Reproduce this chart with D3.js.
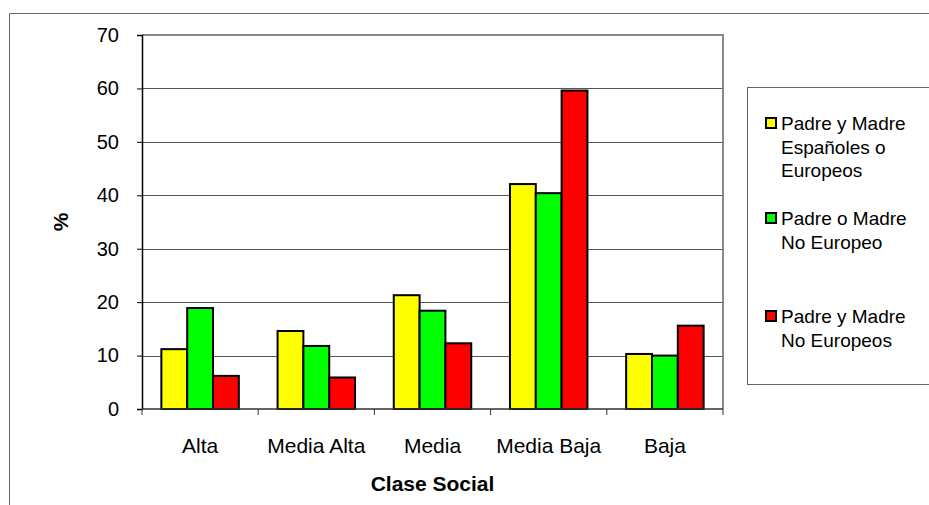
<!DOCTYPE html>
<html>
<head>
<meta charset="utf-8">
<script src="https://cdn.jsdelivr.net/npm/d3@7"></script>
<style>
  html, body { margin: 0; padding: 0; background: #fff; }
  svg { display: block; font-family: "Liberation Sans", Arial, sans-serif; }
</style>
</head>
<body>
<svg id="chart" width="929" height="505"></svg>
<script>
const categories = ["Alta", "Media Alta", "Media", "Media Baja", "Baja"];
const seriesNames = [
  ["Padre y Madre", "Españoles o", "Europeos"],
  ["Padre o Madre", "No Europeo"],
  ["Padre y Madre", "No Europeos"]
];
const seriesColors = ["#FFFF00", "#00FF00", "#FF0000"];
const serie1 = [11.2, 14.6, 21.3, 42.1, 10.3];
const serie2 = [18.9, 11.8, 18.4, 40.4, 10.0];
const serie3 = [6.2, 5.9, 12.3, 59.6, 15.6];
const yTicks = [0, 10, 20, 30, 40, 50, 60, 70];
const xTitle = "Clase Social";
const yTitle = "%";

const series = [serie1, serie2, serie3];
const FONT = "'Liberation Sans', Arial, sans-serif";
const svg = d3.select("#chart");

// outer chart border (partial, as in reference)
svg.append("path")
  .attr("d", "M9.5,505 L9.5,13.5 L929,13.5")
  .attr("fill", "none").attr("stroke", "#666").attr("stroke-width", 1);

const pL = 142, pR = 723, pT = 35, pB = 409;
const x0 = d3.scaleBand().domain(categories).range([pL, pR]).paddingInner(0).paddingOuter(0);
const x1 = d3.scaleBand().domain([0, 1, 2]).range([0, x0.bandwidth()]).paddingInner(0).paddingOuter(0.75);
const y = d3.scaleLinear().domain([0, 70]).range([pB, pT]);

// gridlines
svg.append("g").selectAll("line").data(yTicks.filter(d => d > 0 && d < 70)).join("line")
  .attr("x1", pL).attr("x2", pR)
  .attr("y1", d => Math.round(y(d)) + 0.5).attr("y2", d => Math.round(y(d)) + 0.5)
  .attr("stroke", "#555").attr("stroke-width", 1);

// plot border top & right
svg.append("path")
  .attr("d", `M${pL},${pT} L${pR},${pT} L${pR},${pB}`)
  .attr("fill", "none").attr("stroke", "#888").attr("stroke-width", 2);

// bars
const groups = svg.append("g").selectAll("g").data(categories).join("g")
  .attr("transform", d => `translate(${x0(d)},0)`);
groups.selectAll("rect").data((d, i) => series.map((s, k) => ({k, v: s[i]}))).join("rect")
  .attr("x", d => x1(d.k))
  .attr("width", x1.bandwidth())
  .attr("y", d => y(d.v))
  .attr("height", d => y(0) - y(d.v))
  .attr("fill", d => seriesColors[d.k])
  .attr("stroke", "#000").attr("stroke-width", 2);

// y axis
const yAxis = d3.axisLeft(y).tickValues(yTicks).tickSize(5).tickPadding(18).tickFormat(d3.format("d"));
const yg = svg.append("g").attr("transform", `translate(${pL},0)`).call(yAxis);
yg.select(".domain").attr("stroke", "#000").attr("stroke-width", 1.5);
yg.selectAll(".tick line").attr("stroke", "#000");
yg.selectAll("text").attr("font-size", 20).attr("fill", "#000").attr("font-family", FONT);

// x axis
const xg = svg.append("g").attr("transform", `translate(0,${pB})`);
xg.append("line").attr("x1", pL).attr("x2", pR).attr("y1", 0).attr("y2", 0)
  .attr("stroke", "#333").attr("stroke-width", 1.5);
const boundaries = categories.map(c => x0(c)).concat([pR]);
xg.selectAll("line.tk").data(boundaries).join("line").attr("class", "tk")
  .attr("x1", d => d).attr("x2", d => d).attr("y1", 0).attr("y2", 6)
  .attr("stroke", "#333").attr("stroke-width", 1);
xg.selectAll("text").data(categories).join("text")
  .attr("x", d => x0(d) + x0.bandwidth() / 2)
  .attr("y", 44)
  .attr("text-anchor", "middle")
  .attr("font-size", 21)
  .attr("fill", "#000")
  .text(d => d);

// axis titles
svg.append("text")
  .attr("x", (pL + pR) / 2).attr("y", 491)
  .attr("text-anchor", "middle").attr("font-size", 21).attr("font-weight", "bold")
  .text(xTitle);
svg.append("text")
  .attr("transform", `translate(68,${(pT + pB) / 2}) rotate(-90)`)
  .attr("text-anchor", "middle").attr("font-size", 21).attr("font-weight", "bold")
  .text(yTitle);

// legend
svg.append("rect").attr("x", 747.5).attr("y", 87.5).attr("width", 200).attr("height", 297)
  .attr("fill", "#fff").attr("stroke", "#666").attr("stroke-width", 1);
const legendY = [130, 225, 323];
const lg = svg.append("g").selectAll("g").data(seriesNames).join("g")
  .attr("transform", (d, i) => `translate(0,${legendY[i]})`);
lg.append("rect").attr("x", 766).attr("y", -12).attr("width", 10).attr("height", 10)
  .attr("fill", (d, i) => seriesColors[i]).attr("stroke", "#000").attr("stroke-width", 2);
lg.each(function(lines) {
  d3.select(this).selectAll("text").data(lines).join("text")
    .attr("x", 781).attr("y", (d, j) => j * 23.5)
    .attr("font-size", 19).attr("fill", "#000")
    .text(d => d);
});
</script>
</body>
</html>
